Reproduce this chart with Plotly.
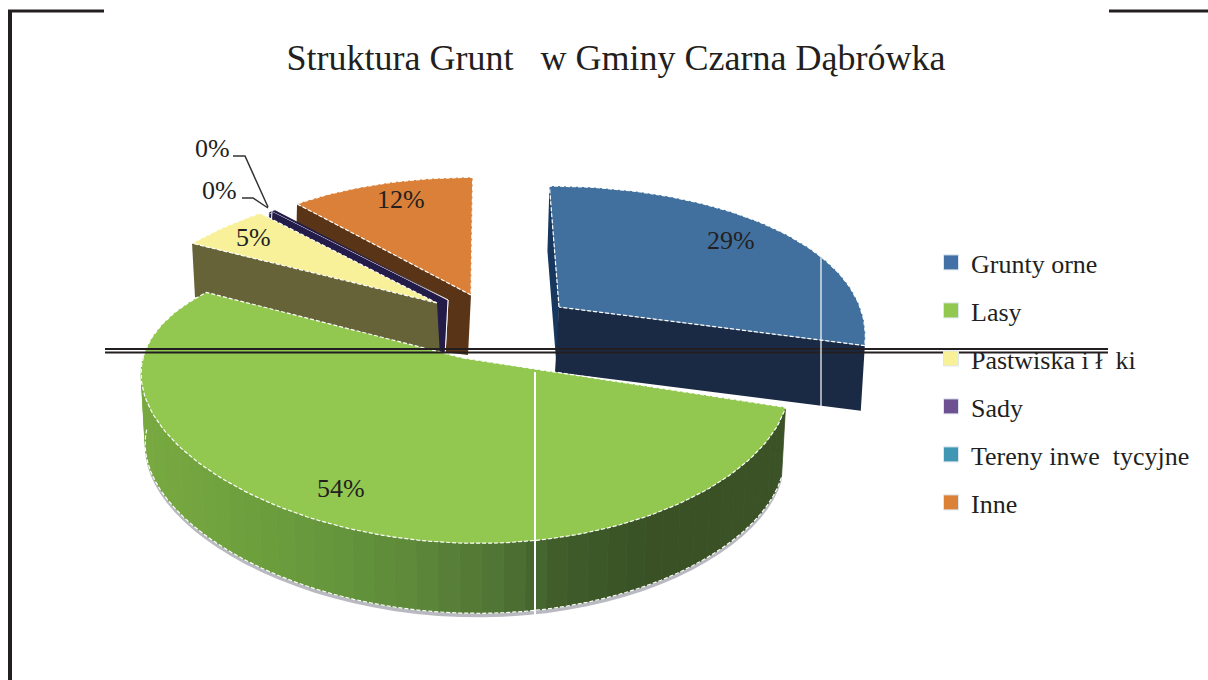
import math
import plotly.graph_objects as go

TITLE = "Struktura Grunt\u00a0\u00a0 w Gminy Czarna Dąbrówka"
categories = ["Grunty orne", "Lasy", "Pastwiska i ł\u00a0 ki", "Sady",
              "Tereny inwe\u00a0 tycyjne", "Inne"]
values = [28.9, 53.7, 4.9, 0.2, 0.2, 12.1]
legend_colors = ["#4471A5", "#92C850", "#F8F19A", "#6E5191", "#3F97B4", "#DC8138"]
top_colors = ["#41709F", "#92C850", "#F8F19A", "#231C48", "#231C48", "#DA8038"]
side_colors = ["#1B2A44", None, "#666339", "#231C48", "#231C48", "#593417"]
green_x = [145, 300, 400, 500, 530, 560, 650, 785]
green_shades = ["#78A940", "#689A3C", "#5F8B3A", "#507333", "#486930", "#3F5C2A", "#395125", "#3A5225"]
FONT = "Liberation Serif"
INK = "#231F20"

# View of each slice: apex, x/y radii, perspective, shear, rotation, extrusion
views = [
    dict(ax=559, ay=307, a=301, b=150, p=.15, q=.24, s=-11, rot=0, d0=65, d1=65, sx=-4),
    dict(ax=463, ay=358, a=320, b=139, p=.15, q=.25, s=-13, rot=5, d0=70, d1=70, sx=4),
    dict(ax=437, ay=303, a=314, b=136, p=.15, q=.1, s=37, rot=0, d0=54, d1=54, sx=3),
    dict(ax=448, ay=300, a=323, b=122, p=.15, q=0, s=36, rot=1, d0=56, d1=56, sx=-3),
    dict(ax=448, ay=300, a=323, b=122, p=.15, q=0, s=36, rot=1, d0=56, d1=56, sx=-3),
    dict(ax=471, ay=295, a=282, b=153, p=.15, q=.3, s=2, rot=0, d0=60, d1=130, sx=-3),
]

total = sum(values)
edges = [0.0]
for v in values:
    edges.append(edges[-1] + v / total * 360)


def rim(v, deg):
    t = math.radians(deg + v["rot"])
    X, Y = math.sin(t), math.cos(t)
    return (v["ax"] + (v["a"] * X + v["s"] * Y) / (1 + v["p"] * Y),
            v["ay"] - v["b"] * Y / (1 + v["q"] * Y))


def top_face(i):
    v = views[i]
    n = max(3, int((edges[i + 1] - edges[i]) / 1.5))
    pts = [(v["ax"], v["ay"])]
    pts += [rim(v, edges[i] + (edges[i + 1] - edges[i]) * k / n) for k in range(n + 1)]
    pts.append(pts[0])
    return pts


def edge_face(i, deg, sx=None):
    v = views[i]
    sx = v["sx"] if sx is None else sx
    rx, ry = rim(v, deg)
    return [(v["ax"], v["ay"]), (rx, ry), (rx + sx, ry + v["d1"]),
            (v["ax"] + sx, v["ay"] + v["d0"]), (v["ax"], v["ay"])]


def poly(pts, fill, line="rgba(0,0,0,0)", width=0, dash="solid"):
    return go.Scatter(x=[p[0] for p in pts], y=[p[1] for p in pts], mode="lines",
                      fill="toself", fillcolor=fill, showlegend=False, hoverinfo="skip",
                      line=dict(color=line, width=width, dash=dash))


def shade(x):
    rgb = [tuple(int(c[j:j + 2], 16) for j in (1, 3, 5)) for c in green_shades]
    if x <= green_x[0]:
        return green_shades[0]
    for k in range(len(green_x) - 1):
        if x <= green_x[k + 1]:
            f = (x - green_x[k]) / (green_x[k + 1] - green_x[k])
            c = [round(rgb[k][m] + (rgb[k + 1][m] - rgb[k][m]) * f) for m in range(3)]
            return "#%02x%02x%02x" % tuple(c)
    return green_shades[-1]


WHITE = dict(line="white", width=1.2, dash="4px,2px")
fig = go.Figure()

# Inne
fig.add_trace(poly(edge_face(5, edges[5]), side_colors[5]))
fig.add_trace(poly(top_face(5), top_colors[5], **WHITE))
# Sady, Tereny inwestycyjne
for i in (3, 4):
    fig.add_trace(poly(edge_face(i, edges[i]), side_colors[i], line="white", width=1))
    fig.add_trace(poly(top_face(i), top_colors[i]))
# Pastwiska
fig.add_trace(poly(edge_face(2, edges[2]), side_colors[2]))
fig.add_trace(poly(top_face(2), top_colors[2], **WHITE))
# Grunty orne
fig.add_trace(poly(edge_face(0, edges[0], sx=-2), "#17375E"))
fig.add_trace(poly(edge_face(0, edges[1]), side_colors[0]))
fig.add_trace(poly(top_face(0), top_colors[0], **WHITE))

# Lasy: curved side, built from strips along the front of the rim
gv = views[1]
steps = 48
angles = [edges[1] + (270 - gv["rot"] - edges[1]) * k / steps for k in range(steps + 1)]
rims = [rim(gv, a) for a in angles]


def low(x, y, extra=0):
    # the extrusion leans slightly towards the middle of the disc
    return (x - gv["sx"] * (x - gv["ax"]) / gv["a"], y + gv["d0"] + extra)


shadow = [low(x, y, 4) for x, y in rims]
fig.add_trace(poly(rims + shadow[::-1] + [rims[0]], "#B9B9C2"))
for k in range(steps):
    p1, p2 = rims[k], rims[k + 1]
    c = shade((p1[0] + p2[0]) / 2)
    fig.add_trace(poly([p1, p2, low(*p2), low(*p1), p1], c, line=c, width=0.7))
lower = [low(x, y) for x, y in rims]
fig.add_trace(go.Scatter(x=[p[0] for p in lower], y=[p[1] for p in lower],
                         mode="lines", line=dict(color="white", width=1.2, dash="4px,2px"),
                         showlegend=False, hoverinfo="skip"))
fig.add_trace(poly(top_face(1), top_colors[1], **WHITE))

# Legend entries
for i, name in enumerate(categories):
    fig.add_trace(go.Scatter(x=[None], y=[None], mode="markers", name=name, legendgroup=name,
                             marker=dict(symbol="square", size=15, color=legend_colors[i],
                                         line=dict(color="#DDE6EE", width=1))))

# Percent labels
label_pos = [(731, 240), (341, 488), (253, 237), (212, 148), (219, 190), (401, 199)]
annotations = [dict(x=x, y=y, xref="x", yref="y", text=f"{round(v)}%", showarrow=False,
                    font=dict(family=FONT, size=26, color=INK))
               for (x, y), v in zip(label_pos, values)]

# Leader lines for the two 0% labels
for xs, ys in (([233, 245, 268], [156, 156, 207]), ([242, 253, 268], [198, 198, 208])):
    fig.add_trace(go.Scatter(x=xs, y=ys, mode="lines", line=dict(color="#333333", width=1.5),
                             showlegend=False, hoverinfo="skip"))

# Printed frame and rule of the source page, white folds through the picture
segs = [(8, 11, 104, 11, 3, INK), (10, 10, 10, 680, 4, INK), (1109, 11, 1208, 11, 3, INK),
        (105, 349, 1108, 349, 1.8, INK), (105, 352.5, 1108, 352.5, 1.8, INK),
        (535, 372, 535, 615, 2, "white"), (821, 255, 821, 408, 1.2, "white")]
shapes = [dict(type="line", xref="x", yref="y", x0=a, y0=b, x1=c, y1=d,
               line=dict(color=col, width=w), layer="above")
          for a, b, c, d, w, col in segs]

fig.update_layout(
    width=1208, height=680, margin=dict(l=0, r=0, t=0, b=0),
    paper_bgcolor="white", plot_bgcolor="white",
    xaxis=dict(range=[0, 1208], visible=False, fixedrange=True),
    yaxis=dict(range=[680, 0], visible=False, fixedrange=True),
    title=dict(text=TITLE, x=616 / 1208, xanchor="center", y=1 - 57 / 680, yanchor="middle",
               font=dict(family=FONT, size=36, color=INK)),
    legend=dict(x=931 / 1208, xanchor="left", y=1 - 239 / 680, yanchor="top",
                font=dict(family=FONT, size=26, color=INK), tracegroupgap=11.2,
                itemwidth=30, bgcolor="rgba(0,0,0,0)"),
    annotations=annotations, shapes=shapes, showlegend=True,
)
fig.write_html("out.html", config=dict(displayModeBar=False),
               post_script="document.body.style.margin='0';")
